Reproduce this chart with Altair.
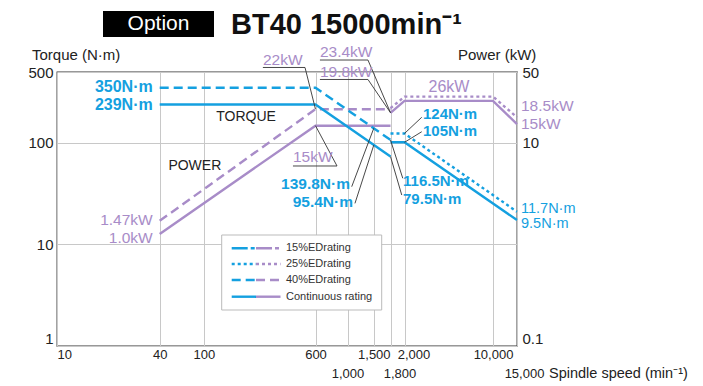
import altair as alt
import pandas as pd

BLUE = "#14a0e0"
PURPLE = "#a88cc8"
DARK = "#333333"
GRID = "#c8c8c8"
FONT = "Liberation Sans"
NARROW = "Liberation Sans Narrow, Liberation Sans, Arial"

# ---------------- data ----------------
speed_ticks = [10, 40, 100, 600, 1000, 1500, 1800, 2000, 10000, 15000]
speed_px = [0, 102.7, 146.8, 258.5, 290.5, 316.8, 333.5, 347.5, 436, 460]

# torque (N·m) as drawn
cont_torque_low_speed = [40, 600, 1800]
cont_torque_low = [239, 239, 73.5]
cont_torque_high_speed = [1800, 2000, 15000]
cont_torque_high = [101.5, 101.5, 17.4]
ed40_torque_speed = [40, 600, 1800]
ed40_torque = [350, 350, 107]
ed25_torque_speed = [1800, 2000, 15000]
ed25_torque = [124, 124, 21.0]

# power (kW) as drawn
cont_power_low_speed = [40, 600, 1800]
cont_power_low = [1.27, 14.8, 14.8]
cont_power_high_speed = [1800, 2000, 10000, 15000]
cont_power_high = [19.8, 26.0, 26.0, 15.3]
ed40_power_speed = [40, 600, 1800]
ed40_power = [1.71, 21.5, 21.5]
ed25_power_speed = [1800, 2000, 10000, 15000]
ed25_power = [22.0, 28.6, 28.6, 17.9]

legend_labels = ["15%EDrating", "25%EDrating", "40%EDrating", "Continuous rating"]

# annotation texts (anchors in speed / torque-axis units)
left_labels = ["350N·m", "239N·m"]
left_values = [352, 237]
left_p_labels = ["1.47kW", "1.0kW"]
left_p_values = [17.3, 11.5]
right_p_labels = ["18.5kW", "15kW"]
right_p_values = [233, 155]
right_labels = ["11.7N·m", "9.5N·m"]
right_values = [22.6, 15.8]

mid_blue_r = ["139.8N·m", "95.4N·m"]
mid_blue_r_speed = [1039, 1088]
mid_blue_r_value = [39.8, 26.1]
mid_blue_l = ["116.5N·m", "79.5N·m", "124N·m", "105N·m"]
mid_blue_l_speed = [1978, 1978, 2800, 2800]
mid_blue_l_value = [42.0, 28.2, 192, 131]
mid_purple = ["22kW", "15kW", "23.4kW", "19.8kW"]
mid_purple_speed = [258, 418, 644, 644]
mid_purple_value = [656, 72.7, 787, 500]
word_labels = ["TORQUE", "POWER", "26kW"]
word_speed = [197, 83, 4490]
word_value = [180, 59, 356]

leader_from_speed = [258, 507, 418, 846, 644, 1371, 644, 1371, 2736, 2736, 1067, 1122, 1974, 1959]
leader_from_value = [554, 554, 59.3, 59.3, 656, 656, 422, 422, 179, 129, 37.1, 25.4, 44.9, 30.7]
leader_to_speed = [507, 600, 846, 600, 1371, 1800, 1371, 1800, 2000, 2000, 1500, 1500, 1800, 1800]
leader_to_value = [554, 215, 59.3, 148, 656, 198.6, 422, 198.6, 124, 101.5, 139.8, 95.4, 107, 73.5]

# ---------------- scales / axes ----------------
xs = alt.Scale(type="log", domain=speed_ticks, range=speed_px, nice=False)
yT = alt.Scale(type="log", domain=[1, 500], nice=False)
yP = alt.Scale(type="log", domain=[0.1, 50], nice=False)

x_axis = alt.Axis(
    values=speed_ticks, domain=False, ticks=False, grid=True, gridColor=GRID, gridWidth=1,
    labelExpr="datum.value == 1000 ? ['', '1,000'] : datum.value == 1800 ? ['', '1,800'] : "
              "datum.value == 15000 ? ['', '15,000'] : format(datum.value, ',')",
    labelFont=NARROW, labelFontSize=13, labelColor="#222", labelPadding=2, labelLineHeight=19,
    labelBaseline="top",
    labelAlign={"condition": {"test": "datum.value == 10", "value": "left"}, "value": "center"},
    labelOffset={"condition": [{"test": "datum.value == 2000 || datum.value == 1800", "value": 9},
                               {"test": "datum.value == 15000", "value": 7}], "value": 0},
    labelFlush=False, labelOverlap=False,
)
X = alt.X("speed:Q", scale=xs, axis=x_axis, title=None)

yl_axis = alt.Axis(
    orient="left", values=[1, 10, 100, 500], domain=False, ticks=False, grid=True,
    gridColor=GRID, gridWidth=1, labelFont=NARROW, labelFontSize=15, labelColor="#222",
    labelPadding=4, labelExpr="format(datum.value, 'd')",
    labelOffset={"condition": {"test": "datum.value == 1", "value": -8}, "value": 0},
)
yr_axis = alt.Axis(
    orient="right", values=[0.1, 10, 50], domain=False, ticks=False, grid=False,
    labelFont=NARROW, labelFontSize=15, labelColor="#222", labelPadding=5,
    labelExpr="datum.value < 1 ? '0.1' : format(datum.value, 'd')",
    labelOffset={"condition": {"test": "datum.value < 1", "value": -8}, "value": 0},
)


def mk(speeds, vals, seg):
    return pd.DataFrame({"speed": speeds, "value": vals, "seg": seg})


def line(df, color, scale, dash=None, axis=None):
    kw = dict(color=color, strokeWidth=2.4, clip=False)
    if dash:
        kw["strokeDash"] = dash
    y = alt.Y("value:Q", scale=scale, title=None, axis=axis)
    return alt.Chart(df).mark_line(**kw).encode(x=X, y=y, detail="seg:N")


YT_none = alt.Y("value:Q", scale=yT, axis=None)

layers = []
# power lines
layers.append(line(pd.concat([mk(cont_power_low_speed, cont_power_low, "a"),
                              mk(cont_power_high_speed, cont_power_high, "b")]), PURPLE, yP, axis=yr_axis))
layers.append(line(mk(ed40_power_speed, ed40_power, "a"), PURPLE, yP, dash=[9, 5]))
layers.append(line(mk(ed25_power_speed, ed25_power, "a"), PURPLE, yP, dash=[3, 3]))
# torque lines
layers.append(line(pd.concat([mk(cont_torque_low_speed, cont_torque_low, "a"),
                              mk(cont_torque_high_speed, cont_torque_high, "b")]), BLUE, yT, axis=yl_axis))
layers.append(line(mk(ed40_torque_speed, ed40_torque, "a"), BLUE, yT, dash=[9, 5]))
layers.append(line(mk(ed25_torque_speed, ed25_torque, "a"), BLUE, yT, dash=[3, 3]))

# leader lines
leaders = pd.DataFrame({"speed": leader_from_speed, "value": leader_from_value,
                        "speed2": leader_to_speed, "value2": leader_to_value})
layers.append(alt.Chart(leaders).mark_rule(color=DARK, strokeWidth=0.9).encode(
    x=X, x2="speed2:Q", y=YT_none, y2="value2:Q"))


def txt(labels, speeds, values, color, size, weight="normal", align="left", dx=0, font=FONT):
    df = pd.DataFrame({"speed": speeds, "value": values, "label": labels})
    return alt.Chart(df).mark_text(align=align, baseline="middle", dx=dx, color=color,
                                   fontSize=size, fontWeight=weight, font=font).encode(
        x=X, y=YT_none, text="label:N")


layers.append(txt(left_labels, [40] * 2, left_values, BLUE, 16, "bold", "right", -7))
layers.append(txt(left_p_labels, [40] * 2, left_p_values, PURPLE, 15.5, "normal", "right", -7))
layers.append(txt(right_p_labels, [15000] * 2, right_p_values, PURPLE, 15.5, "normal", "left", 4))
layers.append(txt(right_labels, [15000] * 2, right_values, BLUE, 14.5, "normal", "left", 4))
layers.append(txt(mid_blue_r, mid_blue_r_speed, mid_blue_r_value, BLUE, 15.5, "bold", "right"))
layers.append(txt(mid_blue_l, mid_blue_l_speed, mid_blue_l_value, BLUE, 15, "bold", "left"))
layers.append(txt(mid_purple, mid_purple_speed, mid_purple_value, PURPLE, 15.5, "normal", "left"))
layers.append(txt(word_labels[:2], word_speed[:2], word_value[:2], "#222", 14, "normal", "center"))
layers.append(txt(word_labels[2:], word_speed[2:], word_value[2:], PURPLE, 16, "normal", "center"))

one = pd.DataFrame({"t": [""]})


def deco_text(text, x, y, size, color="#111", weight="normal", align="left", font=FONT):
    return alt.Chart(pd.DataFrame({"t": [text]})).mark_text(
        align=align, baseline="middle", fontSize=size, fontWeight=weight, color=color, font=font
    ).encode(x=alt.value(x), y=alt.value(y), text="t:N")


# header
layers.append(alt.Chart(one).mark_rect(color="#000").encode(
    x=alt.value(46), x2=alt.value(157), y=alt.value(-61), y2=alt.value(-35)))
layers.append(deco_text("Option", 101.5, -48, 21, "#fff", align="center"))
layers.append(deco_text("BT40 15000min⁻¹", 174, -47, 29, "#111", "bold"))
layers.append(deco_text("Torque (N·m)", -25, -17, 15, "#222"))
layers.append(deco_text("Power (kW)", 401, -17, 15, "#222"))
layers.append(deco_text("Spindle speed (min⁻¹)", 492, 302, 14.5, "#222", font=NARROW))

# legend
layers.append(alt.Chart(one).mark_rect(fill="#fff", stroke="#bbbbbb", strokeWidth=1).encode(
    x=alt.value(164.7), x2=alt.value(324.7), y=alt.value(163), y2=alt.value(238)))
legend_dash = [[16, 3, 4, 3], [3, 3], [9, 5], None]
legend_y = [176.3, 192, 208, 224.7]
for lab, dash, yy in zip(legend_labels, legend_dash, legend_y):
    for col, x0, x1 in [(BLUE, 174.7, 199), (PURPLE, 199, 223.5)]:
        kw = dict(color=col, strokeWidth=2.4)
        if dash:
            kw["strokeDash"] = dash
        layers.append(alt.Chart(one).mark_rule(**kw).encode(
            x=alt.value(x0), x2=alt.value(x1), y=alt.value(yy)))
    layers.append(deco_text(lab, 229, yy, 11, "#333", font=NARROW))

chart = alt.layer(*layers).resolve_scale(y="independent").properties(
    width=460, height=274,
    autosize=alt.AutoSizeParams(type="none"),
    padding={"left": 49, "top": 64, "right": 178, "bottom": 36},
).configure_view(stroke=DARK, strokeWidth=1.3)

chart.save("out.html", embed_options={"renderer": "svg", "actions": False})
